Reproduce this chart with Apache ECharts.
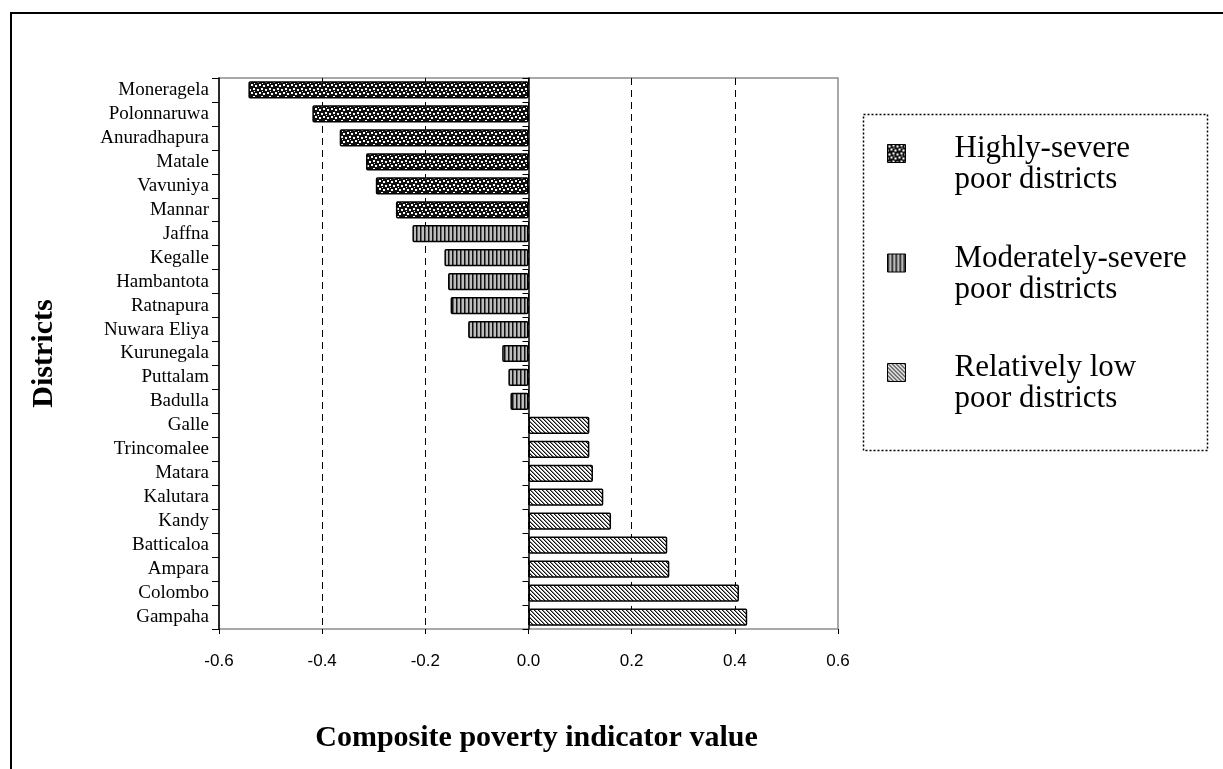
<!DOCTYPE html>
<html>
<head>
<meta charset="utf-8">
<title>Composite poverty indicator by district</title>
<script src="https://cdn.jsdelivr.net/npm/echarts@6/dist/echarts.min.js"></script>
<style>
  html, body { margin: 0; padding: 0; background: #ffffff; }
  #chart { width: 1223px; height: 769px; }
</style>
</head>
<body>
<div id="chart"></div>
<script>
// District groups, listed top to bottom as drawn
const highlyDistricts = ['Moneragela', 'Polonnaruwa', 'Anuradhapura', 'Matale', 'Vavuniya', 'Mannar'];
const highlyValues = [-0.543, -0.419, -0.366, -0.315, -0.296, -0.257];

const moderateDistricts = ['Jaffna', 'Kegalle', 'Hambantota', 'Ratnapura', 'Nuwara Eliya', 'Kurunegala', 'Puttalam', 'Badulla'];
const moderateValues = [-0.225, -0.163, -0.156, -0.151, -0.117, -0.051, -0.039, -0.035];

const lowDistricts = ['Galle', 'Trincomalee', 'Matara', 'Kalutara', 'Kandy', 'Batticaloa', 'Ampara', 'Colombo', 'Gampaha'];
const lowValues = [0.118, 0.118, 0.125, 0.145, 0.160, 0.269, 0.273, 0.408, 0.424];

const groupNames = ['Highly-severe poor districts', 'Moderately-severe poor districts', 'Relatively low poor districts'];
const groupLines = [['Highly-severe', 'poor districts'], ['Moderately-severe', 'poor districts'], ['Relatively low', 'poor districts']];

const xTicks = [-0.6, -0.4, -0.2, 0.0, 0.2, 0.4, 0.6];

const categories = highlyDistricts.concat(moderateDistricts, lowDistricts);

// Each group gets its own series; other rows are left empty
function groupData(districts, values) {
  return categories.map(function (c) {
    const i = districts.indexOf(c);
    return i >= 0 ? values[i] : null;
  });
}

// Fill patterns drawn on small canvas tiles
function tile(w, h, draw) {
  const c = document.createElement('canvas');
  c.width = w; c.height = h;
  const ctx = c.getContext('2d');
  draw(ctx);
  return c;
}
const confetti = tile(8, 8, function (ctx) {
  ctx.fillStyle = '#111';
  ctx.fillRect(0, 0, 8, 8);
  ctx.fillStyle = '#fff';
  ctx.fillRect(1, 1, 2, 2);
  ctx.fillRect(5, 0, 2, 2);
  ctx.fillRect(3, 4, 2, 2);
  ctx.fillRect(7, 5, 1, 2);
  ctx.fillRect(0, 5, 1, 2);
  ctx.fillRect(6, 3, 1, 1);
});
const verticals = tile(4, 4, function (ctx) {
  ctx.fillStyle = '#bdbdbd';
  ctx.fillRect(0, 0, 4, 4);
  ctx.fillStyle = '#111';
  ctx.fillRect(0, 0, 1, 4);
  ctx.fillStyle = '#666';
  ctx.fillRect(1, 0, 1, 4);
});
const diagonals = tile(4, 4, function (ctx) {
  ctx.fillStyle = '#ffffff';
  ctx.fillRect(0, 0, 4, 4);
  for (let i = 0; i < 4; i++) {
    ctx.fillStyle = '#111';
    ctx.fillRect(i, i, 1, 1);
    ctx.fillStyle = '#888';
    ctx.fillRect((i + 1) % 4, i, 1, 1);
  }
});
const fills = [confetti, verticals, diagonals];

const serif = "'Liberation Serif', 'Times New Roman', serif";
const sans = "'Liberation Sans', Arial, sans-serif";

const dataSets = [
  groupData(highlyDistricts, highlyValues),
  groupData(moderateDistricts, moderateValues),
  groupData(lowDistricts, lowValues)
];

const series = dataSets.map(function (d, k) {
  return {
    name: groupNames[k],
    type: 'bar',
    yAxisIndex: 0,
    data: d,
    barWidth: '72%',
    barGap: '-100%',
    z: 3,
    itemStyle: {
      color: { image: fills[k], repeat: 'repeat' },
      borderColor: '#000',
      borderWidth: 1.5,
      borderRadius: 1
    },
    emphasis: { disabled: true }
  };
});

const chart = echarts.init(document.getElementById('chart'), null, { renderer: 'canvas' });
chart.setOption({
  animation: false,
  backgroundColor: '#ffffff',
  grid: {
    left: 219, right: 385, top: 78, bottom: 140,
    show: true, borderColor: '#8c8c8c', borderWidth: 1.5, backgroundColor: 'transparent'
  },
  xAxis: {
    type: 'value',
    min: -0.6, max: 0.6, interval: 0.2,
    name: 'Composite poverty indicator value',
    nameLocation: 'middle',
    nameGap: 94,
    nameTextStyle: { fontFamily: serif, fontSize: 30, fontWeight: 'bold', color: '#000', padding: [0, 0, 0, 16] },
    axisLine: { onZero: false, lineStyle: { color: '#000', width: 1.5 } },
    axisTick: { show: true, length: 5, lineStyle: { color: '#000' } },
    axisLabel: {
      fontFamily: sans, fontSize: 17, color: '#000', margin: 24,
      formatter: function (v) {
        const t = xTicks.find(function (x) { return Math.abs(x - v) < 1e-9; });
        return t === undefined ? '' : t.toFixed(1);
      }
    },
    splitLine: {
      show: true,
      showMinLine: false,
      showMaxLine: false,
      lineStyle: { color: '#000', type: [7, 5], width: 1 }
    }
  },
  yAxis: [
    {
      type: 'category',
      data: categories,
      inverse: true,
      position: 'left',
      z: 1,
      name: 'Districts',
      nameLocation: 'middle',
      nameRotate: 90,
      nameGap: 160,
      nameTextStyle: { fontFamily: serif, fontSize: 30, fontWeight: 'bold', color: '#000' },
      axisLine: { onZero: false, lineStyle: { color: '#000', width: 1.5 } },
      axisTick: { show: true, interval: 0, length: 7, lineStyle: { color: '#000' } },
      axisLabel: { interval: 0, fontFamily: serif, fontSize: 19, color: '#000', margin: 10 },
      splitLine: { show: false }
    },
    {
      type: 'category',
      data: categories,
      inverse: true,
      position: 'left',
      z: 1,
      axisLine: { onZero: true, lineStyle: { color: '#000', width: 1.5 } },
      axisTick: { show: true, interval: 0, length: 6, lineStyle: { color: '#000' } },
      axisLabel: { show: false },
      splitLine: { show: false }
    }
  ],
  legend: {
    orient: 'vertical',
    left: 887,
    top: 122,
    padding: 0,
    itemWidth: 18,
    itemHeight: 18,
    itemGap: 36,
    icon: 'rect',
    selectedMode: false,
    data: groupNames,
    itemStyle: { borderColor: '#000', borderWidth: 1 },
    // a short spacer line above the two text lines keeps the swatch beside the first line
    formatter: function (name) {
      const lines = groupLines[groupNames.indexOf(name)];
      return '{s| }\n{t|' + lines[0] + '}\n{t|' + lines[1] + '}';
    },
    textStyle: {
      color: '#000',
      rich: {
        s: { fontSize: 1, lineHeight: 22 },
        t: { fontFamily: serif, fontSize: 31, lineHeight: 31, color: '#000', padding: [0, 0, 0, 44] }
      }
    }
  },
  graphic: [
    {
      type: 'rect', z: -10, silent: true,
      shape: { x: 11, y: 13, width: 1240, height: 800 },
      style: { fill: 'none', stroke: '#000', lineWidth: 2 }
    },
    {
      type: 'rect', z: -10, silent: true,
      shape: { x: 863.5, y: 114.5, width: 344, height: 336 },
      style: { fill: 'none', stroke: '#000', lineWidth: 1.5, lineDash: [2, 2] }
    }
  ],
  series: series
});
</script>
</body>
</html>
